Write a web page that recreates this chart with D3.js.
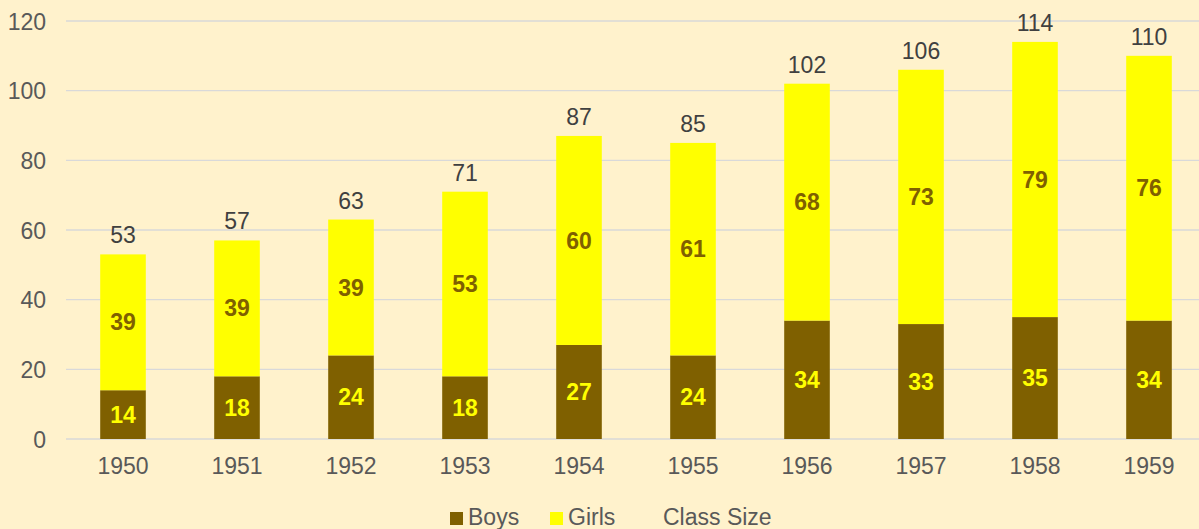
<!DOCTYPE html>
<html>
<head>
<meta charset="utf-8">
<script src="https://cdn.jsdelivr.net/npm/d3@7"></script>
<style>
  html, body { margin: 0; padding: 0; background: #fff2cc; overflow: hidden; }
  text { font-family: "Liberation Sans", Arial, sans-serif; }
</style>
</head>
<body>
<svg id="chart" width="1199" height="529"></svg>
<script>
"use strict"

// chart data
const years = ["1950", "1951", "1952", "1953", "1954", "1955", "1956", "1957", "1958", "1959"];
const boys = [14, 18, 24, 18, 27, 24, 34, 33, 35, 34];
const girls = [39, 39, 39, 53, 60, 61, 68, 73, 79, 76];
const classSize = [53, 57, 63, 71, 87, 85, 102, 106, 114, 110];
const yTicks = [0, 20, 40, 60, 80, 100, 120];

const boys_color = '#7f6000';
const girls_color = '#ffff00';
const font_size = 23;

const svg = d3.select("#chart");

// scales
const x = d3.scaleBand().domain(years).range([66, 1206]).paddingInner(0.6).paddingOuter(0.3);
const y = d3.scaleLinear().domain([0, 120]).range([439, 21]);

// gridlines
svg.append("g")
    .selectAll("line")
    .data(yTicks)
    .join("line")
    .attr("x1", 66)
    .attr("x2", 1199)
    .attr("y1", d => y(d))
    .attr("y2", d => y(d))
    .attr("stroke", "#d9d9d9")
    .attr("stroke-width", 1.3);

// y axis labels
const yAxis = svg.append("g")
    .attr("transform", "translate(46,0)")
    .call(d3.axisLeft(y).tickValues(yTicks).tickSize(0).tickPadding(0));
yAxis.select(".domain").remove();
yAxis.selectAll("text")
    .attr("font-size", font_size)
    .attr("fill", "#595959")
    .attr("dy", "0.35em");

// x axis labels
const xAxis = svg.append("g")
    .attr("transform", "translate(0," + y(0) + ")")
    .call(d3.axisBottom(x).tickSize(0).tickPadding(19));
xAxis.select(".domain").remove();
xAxis.selectAll("text")
    .attr("font-size", font_size)
    .attr("fill", "#595959");

// boys bars
svg.append("g")
    .selectAll("rect")
    .data(boys)
    .join("rect")
    .attr("x", (d, i) => x(years[i]))
    .attr("width", x.bandwidth())
    .attr("y", d => y(d))
    .attr("height", d => y(0) - y(d))
    .attr("fill", boys_color);

// girls bars stacked on boys
svg.append("g")
    .selectAll("rect")
    .data(girls)
    .join("rect")
    .attr("x", (d, i) => x(years[i]))
    .attr("width", x.bandwidth())
    .attr("y", (d, i) => y(boys[i] + d))
    .attr("height", (d, i) => y(boys[i]) - y(boys[i] + d))
    .attr("fill", girls_color);

// boys labels
svg.append("g")
    .selectAll("text")
    .data(boys)
    .join("text")
    .attr("x", (d, i) => x(years[i]) + x.bandwidth() / 2)
    .attr("y", d => y(d / 2))
    .attr("dy", "0.35em")
    .attr("text-anchor", "middle")
    .attr("font-size", font_size)
    .attr("font-weight", "bold")
    .attr("fill", girls_color)
    .text(d => d);

// girls labels
svg.append("g")
    .selectAll("text")
    .data(girls)
    .join("text")
    .attr("x", (d, i) => x(years[i]) + x.bandwidth() / 2)
    .attr("y", (d, i) => y(boys[i] + d / 2))
    .attr("dy", "0.35em")
    .attr("text-anchor", "middle")
    .attr("font-size", font_size)
    .attr("font-weight", "bold")
    .attr("fill", boys_color)
    .text(d => d);

// class size totals above bars
svg.append("g")
    .selectAll("text")
    .data(classSize)
    .join("text")
    .attr("x", (d, i) => x(years[i]) + x.bandwidth() / 2)
    .attr("y", d => y(d) - 11)
    .attr("text-anchor", "middle")
    .attr("font-size", font_size)
    .attr("fill", "#404040")
    .text(d => d);

// legend
const legend = svg.append("g").attr("transform", "translate(0,525)");
const legend_items = [
    { label: "Boys", color: boys_color, x: 450 },
    { label: "Girls", color: girls_color, x: 550 },
    { label: "Class Size", color: null, x: 645 }
];
legend_items.forEach(item => {
    if (item.color) {
        legend.append("rect")
            .attr("x", item.x)
            .attr("y", -13)
            .attr("width", 13)
            .attr("height", 13)
            .attr("fill", item.color);
    }
    legend.append("text")
        .attr("x", item.x + 18)
        .attr("y", 0)
        .attr("font-size", font_size)
        .attr("fill", "#595959")
        .text(item.label);
});
</script>
</body>
</html>
